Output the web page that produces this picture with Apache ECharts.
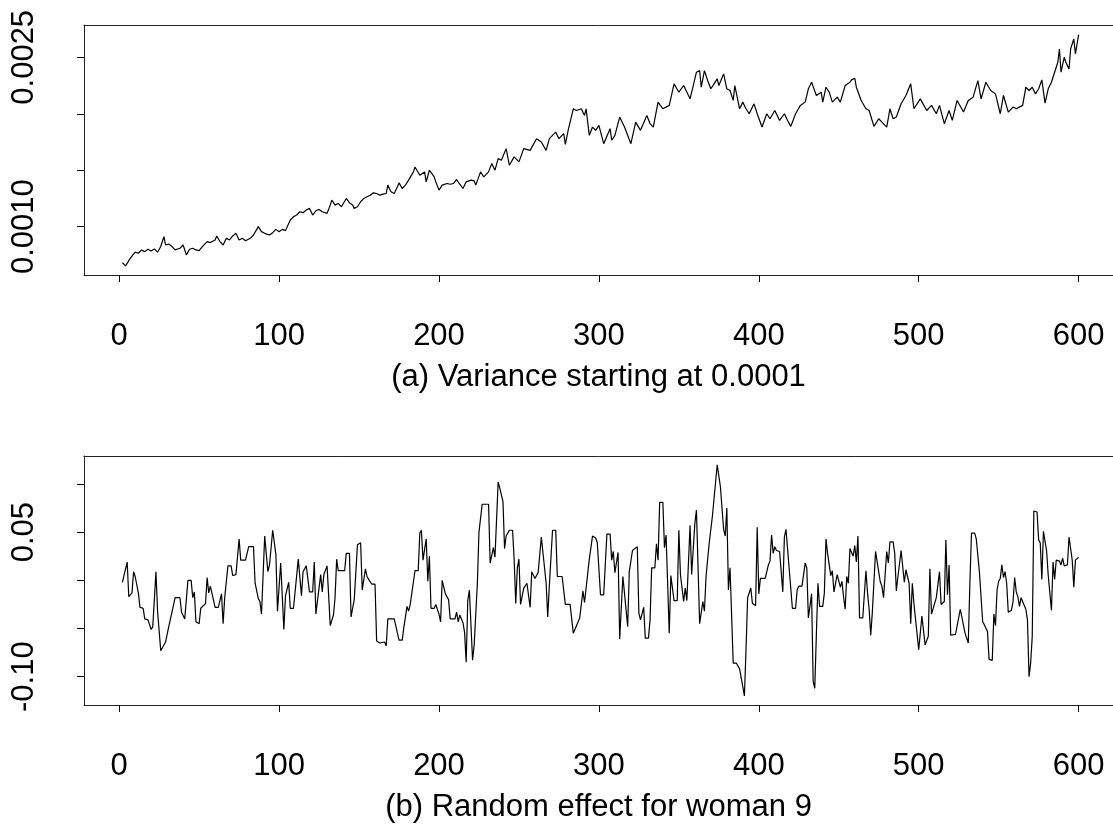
<!DOCTYPE html>
<html lang="en">
<head>
<meta charset="UTF-8">
<title>MCMC traces</title>
<script src="https://cdn.jsdelivr.net/npm/echarts@6/dist/echarts.min.js"></script>
<style>
  html, body { margin: 0; padding: 0; background: #fff; }
  #chart { width: 1113px; height: 833px; }
</style>
</head>
<body>
<div id="chart"></div>
<script>
// ticks and labels
let iterTicks = [0, 100, 200, 300, 400, 500, 600]
let varTicks = [0.0010, 0.0015, 0.0020, 0.0025]
let varLabels = [0.0010, 0.0025]
let reTicks = [-0.10, -0.05, 0, 0.05, 0.10]
let reLabels = [-0.10, 0.05]
let captions = ['(a) Variance starting at 0.0001', '(b) Random effect for woman 9']

// [iteration, draw]
let varianceTrace = [
  [2,0.000682],[4,0.000653],[7,0.000721],[10,0.000774],[12,0.000765],[14,0.000794],[16,0.000779],[18,0.000800],
  [20,0.000785],[22,0.000803],[24,0.000774],[26,0.000824],[28,0.000912],[29,0.000838],[31,0.000847],[33,0.000824],
  [35,0.000794],[36,0.000779],[38,0.000809],[40,0.000838],[42,0.000750],[44,0.000800],[46,0.000809],[48,0.000794],
  [50,0.000788],[52,0.000824],[55,0.000868],[57,0.000859],[60,0.000882],[61,0.000918],[63,0.000868],[65,0.000838],
  [67,0.000897],[69,0.000882],[71,0.000918],[73,0.000941],[75,0.000882],[77,0.000897],[79,0.000876],[82,0.000897],
  [84,0.000926],[87,0.001000],[89,0.000956],[91,0.000941],[94,0.000926],[96,0.000947],[98,0.000976],[100,0.000956],
  [102,0.000976],[104,0.000965],[105,0.000956],[107,0.001059],[109,0.001088],[111,0.001103],[113,0.001132],[115,0.001124],
  [117,0.001147],[119,0.001162],[121,0.001103],[123,0.001141],[125,0.001153],[127,0.001132],[130,0.001118],[132,0.001191],
  [133,0.001235],[135,0.001191],[137,0.001206],[139,0.001176],[142,0.001250],[144,0.001212],[146,0.001191],[147,0.001162],
  [149,0.001176],[151,0.001221],[153,0.001250],[155,0.001265],[157,0.001279],[159,0.001300],[161,0.001294],[163,0.001279],
  [165,0.001288],[167,0.001294],[168,0.001368],[170,0.001309],[172,0.001294],[174,0.001353],[175,0.001388],[177,0.001338],
  [179,0.001368],[181,0.001412],[184,0.001485],[185,0.001529],[188,0.001456],[191,0.001485],[192,0.001397],[194,0.001500],
  [197,0.001441],[198,0.001397],[200,0.001324],[202,0.001368],[205,0.001382],[207,0.001376],[209,0.001382],[211,0.001418],
  [213,0.001376],[215,0.001338],[217,0.001397],[220,0.001412],[222,0.001406],[223,0.001368],[226,0.001485],[228,0.001441],
  [231,0.001485],[233,0.001559],[235,0.001500],[237,0.001603],[239,0.001588],[242,0.001691],[244,0.001544],[247,0.001618],
  [250,0.001574],[253,0.001691],[257,0.001676],[261,0.001779],[264,0.001750],[267,0.001676],[269,0.001779],[273,0.001838],
  [275,0.001779],[278,0.001824],[279,0.001729],[281,0.001868],[284,0.002044],[286,0.002029],[289,0.002044],[291,0.001985],
  [292,0.002044],[294,0.001809],[296,0.001882],[298,0.001853],[300,0.001897],[303,0.001735],[307,0.001868],[308,0.001765],
  [310,0.001809],[313,0.001971],[316,0.001882],[320,0.001735],[323,0.001926],[326,0.001853],[330,0.001985],[332,0.001912],
  [334,0.001882],[337,0.002103],[340,0.002044],[344,0.002074],[347,0.002265],[350,0.002191],[353,0.002250],[357,0.002132],
  [359,0.002250],[361,0.002368],[363,0.002382],[364,0.002235],[366,0.002382],[368,0.002294],[370,0.002221],[372,0.002265],
  [374,0.002309],[375,0.002250],[378,0.002353],[380,0.002221],[382,0.002206],[384,0.002118],[385,0.002250],[388,0.002044],
  [390,0.002103],[392,0.002044],[394,0.002000],[397,0.002088],[399,0.002000],[402,0.001882],[405,0.002000],[407,0.001956],
  [410,0.002029],[413,0.001941],[416,0.002000],[418,0.001941],[420,0.001888],[423,0.002000],[426,0.002074],[429,0.002103],
  [431,0.002221],[433,0.002279],[436,0.002162],[439,0.002191],[440,0.002103],[442,0.002235],[444,0.002191],[446,0.002103],
  [449,0.002147],[451,0.002103],[454,0.002250],[457,0.002279],[458,0.002300],[460,0.002315],[461,0.002235],[464,0.002118],
  [467,0.002044],[469,0.002029],[472,0.001888],[475,0.001956],[477,0.001926],[480,0.001882],[482,0.002044],[484,0.001956],
  [486,0.001971],[489,0.002088],[492,0.002162],[495,0.002265],[497,0.002044],[501,0.002132],[505,0.002029],[508,0.002074],
  [511,0.002000],[513,0.002074],[516,0.001912],[519,0.002029],[521,0.001941],[524,0.002118],[528,0.002015],[531,0.002118],
  [534,0.002147],[537,0.002294],[539,0.002132],[542,0.002279],[545,0.002206],[548,0.002176],[551,0.002000],[553,0.002162],
  [556,0.002015],[559,0.002059],[561,0.002044],[565,0.002074],[567,0.002235],[569,0.002206],[571,0.002235],[573,0.002176],
  [575,0.002221],[577,0.002300],[579,0.002094],[581,0.002221],[583,0.002279],[585,0.002368],[587,0.002456],[588,0.002574],
  [589,0.002368],[591,0.002500],[592,0.002456],[594,0.002397],[595,0.002574],[597,0.002662],[598,0.002529],[600,0.002700]
]

let effectTrace = [
  [2,-0.002],[3,-0.002],[5,0.019],[6,-0.017],[7,-0.017],[8,-0.013],[9,0.009],[10,0.004],[12,-0.013],[13,-0.028],
  [15,-0.029],[16,-0.040],[18,-0.041],[20,-0.051],[21,-0.048],[22,-0.020],[23,0.009],[24,-0.032],[25,-0.032],[26,-0.073],
  [27,-0.073],[29,-0.064],[30,-0.063],[31,-0.048],[32,-0.047],[33,-0.033],[34,-0.032],[35,-0.018],[38,-0.018],[39,-0.033],
  [40,-0.034],[41,-0.040],[42,-0.040],[43,0.000],[45,0.000],[46,-0.018],[47,-0.012],[48,-0.043],[50,-0.045],[51,-0.029],
  [52,-0.028],[54,-0.024],[55,0.003],[56,-0.013],[57,-0.006],[58,-0.006],[60,-0.028],[62,-0.028],[64,-0.014],[65,-0.045],
  [66,-0.018],[67,-0.019],[68,0.015],[70,0.015],[71,0.005],[73,0.006],[75,0.043],[76,0.021],[79,0.021],[81,0.035],
  [84,0.035],[85,-0.003],[86,-0.003],[87,-0.019],[88,-0.022],[89,-0.035],[91,0.046],[93,0.009],[94,0.016],[96,0.052],
  [97,0.052],[98,0.027],[99,-0.032],[100,-0.032],[101,0.018],[103,-0.051],[104,-0.016],[105,-0.016],[106,-0.002],[107,-0.029],
  [109,-0.029],[112,0.022],[113,0.022],[114,-0.016],[115,0.009],[117,0.015],[118,0.015],[119,-0.012],[121,-0.012],[122,0.019],
  [123,-0.035],[124,-0.033],[126,0.006],[127,-0.012],[128,0.006],[130,0.015],[132,-0.047],[134,-0.036],[135,-0.018],[136,0.022],
  [137,0.010],[141,0.010],[142,0.028],[144,0.028],[145,-0.038],[146,-0.039],[147,-0.020],[148,-0.020],[149,0.037],[151,0.039],
  [152,-0.010],[154,0.012],[155,0.004],[156,0.001],[157,0.003],[158,-0.004],[160,-0.004],[161,-0.063],[163,-0.065],[164,-0.065],
  [166,-0.064],[167,-0.068],[168,-0.040],[172,-0.040],[175,-0.062],[177,-0.062],[178,-0.049],[180,-0.027],[181,-0.032],[182,-0.025],
  [183,-0.025],[185,0.010],[187,0.010],[188,0.049],[189,0.052],[190,0.021],[192,0.043],[193,-0.001],[194,0.025],[195,-0.029],
  [197,-0.029],[198,-0.025],[200,-0.035],[201,-0.043],[202,0.000],[204,-0.014],[205,-0.016],[206,-0.020],[207,-0.040],[210,-0.040],
  [211,-0.033],[212,-0.043],[213,-0.036],[215,-0.044],[216,-0.054],[217,-0.085],[218,-0.021],[219,-0.010],[221,-0.083],[222,-0.067],
  [224,-0.003],[225,0.050],[227,0.079],[231,0.079],[232,0.018],[234,0.034],[235,0.024],[236,0.024],[237,0.102],[238,0.096],
  [240,0.082],[241,0.033],[242,0.046],[243,0.046],[244,0.052],[246,0.052],[247,0.022],[248,-0.024],[249,0.013],[250,0.022],
  [251,-0.025],[253,-0.008],[255,-0.003],[256,-0.003],[257,-0.028],[258,0.009],[260,0.002],[261,0.002],[262,0.008],[264,0.045],
  [265,0.043],[267,-0.003],[268,-0.038],[269,-0.006],[270,-0.006],[271,0.052],[273,0.052],[274,0.004],[277,0.004],[279,-0.025],
  [282,-0.025],[284,-0.055],[285,-0.055],[288,-0.039],[290,-0.011],[291,-0.023],[292,-0.023],[294,0.022],[295,0.020],[296,0.046],
  [298,0.044],[299,0.039],[301,-0.015],[303,-0.015],[305,0.048],[307,0.048],[308,0.021],[309,0.030],[310,0.008],[312,0.029],
  [313,-0.061],[315,0.004],[316,0.004],[318,-0.048],[319,0.009],[321,0.031],[322,0.031],[324,0.035],[325,-0.034],[326,-0.041],
  [327,-0.041],[328,-0.028],[329,-0.060],[331,-0.060],[332,-0.041],[333,0.013],[335,0.013],[336,0.038],[337,0.021],[338,0.081],
  [340,0.081],[341,0.034],[342,0.047],[343,0.047],[344,-0.055],[345,0.005],[346,0.006],[347,-0.021],[349,-0.021],[350,0.052],
  [351,0.006],[352,0.005],[353,-0.022],[354,-0.008],[355,-0.021],[357,0.057],[358,0.006],[359,0.006],[360,0.059],[361,0.073],
  [362,0.072],[363,-0.045],[364,-0.045],[365,-0.022],[366,-0.032],[367,0.004],[369,0.039],[371,0.067],[372,0.067],[374,0.120],
  [376,0.097],[377,0.097],[378,0.053],[379,0.046],[380,0.075],[381,-0.010],[382,0.013],[383,0.013],[384,-0.086],[386,-0.086],
  [388,-0.092],[389,-0.092],[391,-0.120],[392,-0.072],[393,-0.018],[394,-0.018],[395,-0.008],[396,-0.024],[398,-0.026],[399,0.055],
  [400,-0.014],[401,0.002],[402,0.002],[404,0.002],[406,0.016],[407,0.020],[408,0.047],[409,0.028],[410,0.035],[411,0.031],
  [413,0.030],[414,0.030],[415,-0.012],[416,0.045],[417,0.053],[419,0.012],[420,0.012],[421,-0.029],[423,-0.029],[424,-0.010],
  [425,-0.006],[427,-0.006],[429,0.018],[430,0.013],[431,-0.039],[432,-0.039],[433,-0.014],[434,-0.105],[435,-0.112],[436,-0.056],
  [437,-0.003],[438,-0.027],[440,-0.027],[441,-0.013],[442,0.043],[443,0.028],[444,0.028],[445,0.005],[446,0.010],[447,-0.012],
  [448,-0.012],[449,0.006],[451,-0.007],[452,-0.001],[453,-0.017],[454,-0.030],[455,0.004],[456,-0.003],[457,0.033],[458,0.033],
  [459,0.025],[460,0.036],[461,0.019],[462,0.046],[463,-0.039],[465,-0.039],[467,0.010],[468,-0.013],[469,-0.030],[470,-0.057],
  [471,-0.033],[472,-0.033],[473,0.030],[474,0.028],[476,-0.002],[477,-0.006],[478,-0.018],[479,-0.018],[480,0.030],[481,0.018],
  [482,0.040],[484,0.040],[485,0.028],[486,-0.011],[487,0.004],[488,0.002],[489,0.031],[491,-0.002],[492,0.011],[493,0.013],
  [494,-0.003],[495,-0.045],[496,-0.003],[497,-0.024],[498,-0.024],[500,-0.072],[502,-0.037],[503,-0.038],[504,-0.067],[505,-0.066],
  [506,-0.058],[507,0.012],[508,-0.035],[509,-0.035],[511,-0.018],[512,-0.018],[513,0.009],[514,-0.025],[516,-0.022],[517,0.042],
  [518,-0.015],[519,0.016],[520,-0.057],[523,-0.056],[524,-0.056],[526,-0.030],[527,-0.031],[529,-0.055],[530,-0.056],[531,-0.065],
  [532,-0.003],[533,0.049],[535,0.049],[536,0.043],[538,0.008],[540,-0.043],[541,-0.046],[543,-0.053],[544,-0.082],[546,-0.083],
  [547,-0.035],[548,-0.047],[549,-0.010],[550,-0.001],[551,0.002],[552,0.016],[553,0.003],[554,0.009],[555,-0.003],[556,-0.033],
  [558,-0.031],[559,-0.022],[560,0.003],[561,-0.012],[562,-0.017],[563,-0.027],[564,-0.018],[565,-0.019],[567,-0.030],[568,-0.041],
  [569,-0.100],[570,-0.086],[571,-0.058],[572,0.072],[574,0.071],[575,0.042],[576,0.039],[577,0.001],[578,0.051],[579,0.053],
  [580,0.030],[581,0.005],[582,0.007],[583,-0.031],[584,0.019],[585,0.001],[586,0.021],[587,0.019],[588,0.020],[589,0.016],
  [590,0.023],[591,0.015],[592,0.015],[593,0.016],[594,0.045],[595,0.047],[596,0.021],[597,-0.007],[598,0.021],[600,0.024]
]

const FONT = '"Liberation Sans", Arial, Helvetica, sans-serif'
const FRAME = { show: true, onZero: false, lineStyle: { color: '#222', width: 1 } }
const X_MIN = -22, X_MAX = 621.5

function iterAxis(grid, caption) {
    return {
        type: 'value', gridIndex: grid, position: 'bottom', min: X_MIN, max: X_MAX,
        name: caption, nameLocation: 'middle', nameGap: 87,
        nameTextStyle: { fontFamily: FONT, fontSize: 31, color: '#000' },
        axisLine: FRAME,
        axisTick: { show: true, length: 7, customValues: iterTicks, lineStyle: { color: '#000', width: 1 } },
        axisLabel: { customValues: iterTicks, margin: 46, fontFamily: FONT, fontSize: 31, color: '#000' },
        splitLine: { show: false }
    }
}

// top edge of the box, no ticks or labels
function topEdge(grid) {
    return {
        type: 'value', gridIndex: grid, position: 'top', min: X_MIN, max: X_MAX,
        axisLine: FRAME, axisTick: { show: false }, axisLabel: { show: false }, splitLine: { show: false }
    }
}

function drawAxis(grid, min, max, ticks, labels, digits) {
    return {
        type: 'value', gridIndex: grid, min: min, max: max,
        axisLine: FRAME,
        axisTick: { show: true, length: 7, customValues: ticks, lineStyle: { color: '#000', width: 1 } },
        axisLabel: {
            customValues: labels, rotate: 90, margin: 44,
            fontFamily: FONT, fontSize: 31, color: '#000',
            formatter: function (v) { return v.toFixed(digits) }
        },
        splitLine: { show: false }
    }
}

let chart = echarts.init(document.getElementById('chart'), null, { renderer: 'canvas' })
chart.setOption({
    animation: false,
    backgroundColor: '#fff',
    grid: [
        { left: 84, top: 25, height: 250, right: 0 },
        { left: 84, top: 456, height: 249, right: 0 }
    ],
    xAxis: [iterAxis(0, captions[0]), iterAxis(1, captions[1]), topEdge(0), topEdge(1)],
    yAxis: [
        drawAxis(0, 0.000572, 0.002786, varTicks, varLabels, 4),
        drawAxis(1, -0.1294, 0.1291, reTicks, reLabels, 2)
    ],
    series: [
        { type: 'line', xAxisIndex: 0, yAxisIndex: 0, data: varianceTrace, symbol: 'none',
          lineStyle: { color: '#000', width: 1.2 }, silent: true },
        { type: 'line', xAxisIndex: 1, yAxisIndex: 1, data: effectTrace, symbol: 'none',
          lineStyle: { color: '#000', width: 1.2 }, silent: true }
    ]
})
</script>
</body>
</html>
